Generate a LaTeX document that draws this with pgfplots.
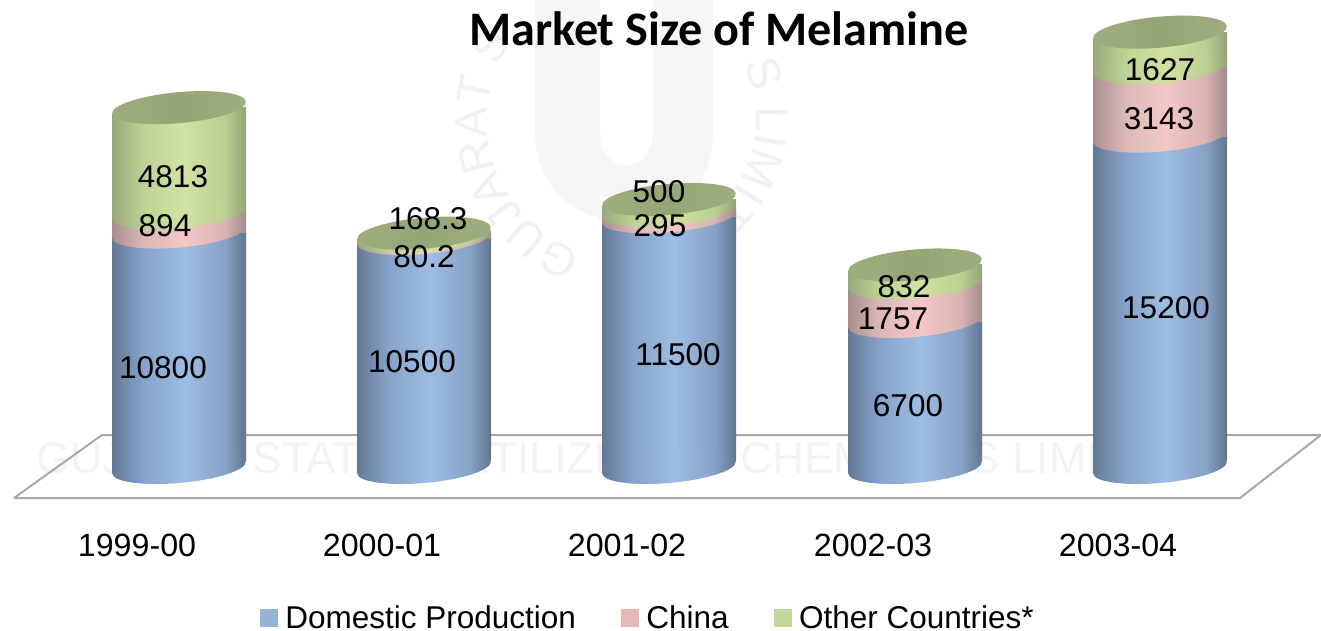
\documentclass[border=0pt]{standalone}
\usepackage{pgfplots}
\pgfplotsset{compat=1.18}
\usepackage{fontspec}
\setmainfont{Liberation Sans}
\newfontfamily\titlefont{Carlito}
\usetikzlibrary{decorations.text}
\definecolor{wm}{HTML}{F1F1F1}
\definecolor{wmtext}{HTML}{F3F3F3}
\definecolor{wmlogo}{HTML}{F6F6F6}
\definecolor{floorc}{HTML}{A8A8A8}
\definecolor{legblue}{HTML}{95B3D7}
\definecolor{legpink}{HTML}{E6B9B8}
\definecolor{leggreen}{HTML}{C3D69B}
\pgfdeclarehorizontalshading{bluecyl}{100bp}{rgb(0bp)=(0.39,0.47,0.58);rgb(25bp)=(0.39,0.47,0.58);rgb(37bp)=(0.53,0.64,0.80);rgb(52bp)=(0.62,0.74,0.89);rgb(67bp)=(0.53,0.63,0.78);rgb(75bp)=(0.38,0.46,0.56);rgb(100bp)=(0.38,0.46,0.56)}
\pgfdeclarehorizontalshading{pinkcyl}{100bp}{rgb(0bp)=(0.66,0.56,0.56);rgb(25bp)=(0.66,0.56,0.56);rgb(37bp)=(0.86,0.72,0.72);rgb(52bp)=(0.96,0.78,0.78);rgb(67bp)=(0.85,0.70,0.70);rgb(75bp)=(0.64,0.54,0.54);rgb(100bp)=(0.64,0.54,0.54)}
\pgfdeclarehorizontalshading{greencyl}{100bp}{rgb(0bp)=(0.60,0.66,0.48);rgb(25bp)=(0.60,0.66,0.48);rgb(37bp)=(0.74,0.83,0.58);rgb(52bp)=(0.82,0.89,0.64);rgb(67bp)=(0.73,0.81,0.57);rgb(75bp)=(0.58,0.64,0.46);rgb(100bp)=(0.58,0.64,0.46)}
\pgfdeclarehorizontalshading{topcyl}{100bp}{rgb(0bp)=(0.62,0.68,0.50);rgb(25bp)=(0.62,0.68,0.50);rgb(50bp)=(0.58,0.65,0.46);rgb(75bp)=(0.62,0.68,0.50);rgb(100bp)=(0.62,0.68,0.50)}
\newcommand{\cylell}[1]{%
  \pgfpathellipse{\pgfpointorigin}{\pgfqpoint{66.8pt}{6pt}}{\pgfqpoint{-1.4pt}{15.4pt}}%
  \pgfshadepath{#1}{0}\pgfusepath{discard}}
\newcommand{\cylellL}[1]{%
  \pgfpathellipse{\pgfpointorigin}{\pgfqpoint{66.8pt}{6pt}}{\pgfqpoint{-1.4pt}{15.4pt}}%
  \pgfpathrectangle{\pgfqpoint{-66.8pt}{-6pt}}{\pgfqpoint{16pt}{12pt}}%
  \pgfshadepath{#1}{0}\pgfusepath{discard}}
\pgfdeclareplotmark{ellbase}{%
  \pgfsetfillcolor{white}%
  \pgfpathrectangle{\pgfqpoint{55pt}{-1pt}}{\pgfqpoint{14pt}{7pt}}%
  \pgfusepath{fill}\cylellL{bluecyl}}
\pgfdeclareplotmark{ellpink}{\cylellL{pinkcyl}}
\pgfdeclareplotmark{ellgreen}{\cylellL{greencyl}}
\pgfdeclareplotmark{elltop}{%
  \pgfsetfillcolor{white}%
  \pgfpathmoveto{\pgfqpoint{-69pt}{-6pt}}\pgfpathlineto{\pgfqpoint{-69pt}{2pt}}\pgfpathlineto{\pgfqpoint{-55pt}{2pt}}\pgfpathlineto{\pgfqpoint{-55pt}{-6pt}}\pgfpathclose
  \pgfusepath{fill}\cylell{topcyl}}
\pgfplotsset{cylframe/.style={at={(0,106pt)},anchor=south west,scale only axis,width=1321pt,height=525pt,
  xmin=0,xmax=1321,ymin=-2637.6,ymax=21445,clip=false,hide axis},
  cylaxis/.style={cylframe,ybar stacked,bar width=134pt,reverse stacked plots=false}}
% one cylinder: x, domestic, china, other
\newcommand{\cylinder}[4]{%
\begin{axis}[cylaxis]
\addplot[draw=none,shade,shading=bluecyl,mark=ellpink] coordinates {(#1,#2)};
\addplot[draw=none,shade,shading=pinkcyl,mark=ellgreen] coordinates {(#1,#3)};
\addplot[draw=none,shade,shading=greencyl,mark=elltop] coordinates {(#1,#4)};
\end{axis}
\begin{axis}[cylframe]
\addplot[only marks,mark=ellbase] coordinates {(#1,0)};
\end{axis}}
\begin{document}
\begin{tikzpicture}[x=1pt,y=1pt]
\useasboundingbox (0,0) rectangle (1321,631);
% background: floor and watermark, in pixel coordinates
\begin{axis}[at={(0,0)},anchor=south west,scale only axis,width=1321pt,height=631pt,
  xmin=0,xmax=1321,ymin=0,ymax=631,y dir=reverse,hide axis,clip=false]
\fill[wmlogo] (axis cs:535,0) -- (axis cs:535,130) .. controls (axis cs:535,190) and (axis cs:580,222) .. (axis cs:625,222) .. controls (axis cs:675,222) and (axis cs:713,190) .. (axis cs:713,130) -- (axis cs:713,0) -- (axis cs:653,0) -- (axis cs:653,130) .. controls (axis cs:653,155) and (axis cs:640,165) .. (axis cs:626,165) .. controls (axis cs:612,165) and (axis cs:600,155) .. (axis cs:600,130) -- (axis cs:600,0) -- cycle;
\node[anchor=west,text=wmtext,font=\fontsize{44.5}{50}\selectfont,inner sep=0pt] at (axis cs:36,458) {GUJARAT STATE FERTILIZERS \& CHEMICALS LIMITED};
\path[decorate,decoration={text along path,text={|\fontsize{46}{48}\selectfont\color{wm}|GUJARAT S},text align=fit to path}]
  (axis cs:582,252) arc[start angle=251,end angle=150,radius=140pt];
\path[decorate,decoration={text along path,text={|\fontsize{46}{48}\selectfont\color{wm}|S LIMIT},text align=fit to path}]
  (axis cs:744,64) arc[start angle=25,end angle=-48,radius=128pt];
\addplot[draw=floorc,line width=2pt,line join=round] coordinates {(14,498) (102,435) (1321,435) (1240,498) (14,498)};
\end{axis}
% tick labels
\begin{axis}[at={(0,106pt)},anchor=south west,scale only axis,width=1321pt,height=525pt,
  xmin=0,xmax=1321,ymin=-2637.6,ymax=21445,clip=false,
  axis line style={draw=none},
  ytick=\empty,
  xtick={179,424,669,915,1160},
  xticklabels={1999-00,2000-01,2001-02,2002-03,2003-04},
  major tick length=0pt,
  xticklabel style={anchor=center,yshift=-20pt,xshift=-42pt,font=\fontsize{32.2}{36}\selectfont}]
\end{axis}
% the cylinders
\cylinder{179}{10800}{894}{4813}
\cylinder{424}{10500}{80.2}{168.3}
\cylinder{669}{11500}{295}{500}
\cylinder{915}{6700}{1757}{832}
\cylinder{1160}{15200}{3143}{1627}
% labels, legend and title, in pixel coordinates
\begin{axis}[at={(0,0)},anchor=south west,scale only axis,width=1321pt,height=631pt,
  xmin=0,xmax=1321,ymin=0,ymax=631,y dir=reverse,hide axis,clip=false,
  nodes={font=\fontsize{31.5}{36}\selectfont,inner sep=0pt,anchor=center},
  legend columns=3,
  legend style={at={(0.1968,0.0206)},anchor=west,yshift=-315pt,draw=none,fill=none,inner sep=0pt,outer sep=0pt,
    font=\fontsize{32.3}{36}\selectfont,
    /tikz/every even column/.append style={column sep=45pt},
    legend cell align=left,
    nodes={inner sep=0pt,anchor=base west}}]
\addlegendimage{legend image code/.code={\fill[legblue] (0pt,3pt) rectangle (17pt,20pt);\path (25pt,0);}}
\addlegendentry{Domestic Production}
\addlegendimage{legend image code/.code={\fill[legpink] (0pt,3pt) rectangle (17pt,20pt);\path (25pt,0);}}
\addlegendentry{China}
\addlegendimage{legend image code/.code={\fill[leggreen] (0pt,3pt) rectangle (17pt,20pt);\path (25pt,0);}}
\addlegendentry{Other Countries*}
\node[font=\titlefont\bfseries\fontsize{48.2}{52}\selectfont] at (axis cs:719,29) {Market Size of Melamine};
\node at (axis cs:163,368) {10800};
\node at (axis cs:165,226) {894};
\node at (axis cs:173,177) {4813};
\node at (axis cs:412,362) {10500};
\node at (axis cs:424,257) {80.2};
\node at (axis cs:428,219) {168.3};
\node at (axis cs:678,355) {11500};
\node at (axis cs:660,226) {295};
\node at (axis cs:659,192) {500};
\node at (axis cs:908,406) {6700};
\node at (axis cs:893,319) {1757};
\node at (axis cs:904,287) {832};
\node at (axis cs:1166,308) {15200};
\node at (axis cs:1159,119) {3143};
\node at (axis cs:1160,70) {1627};
\end{axis}
\end{tikzpicture}
\end{document}
